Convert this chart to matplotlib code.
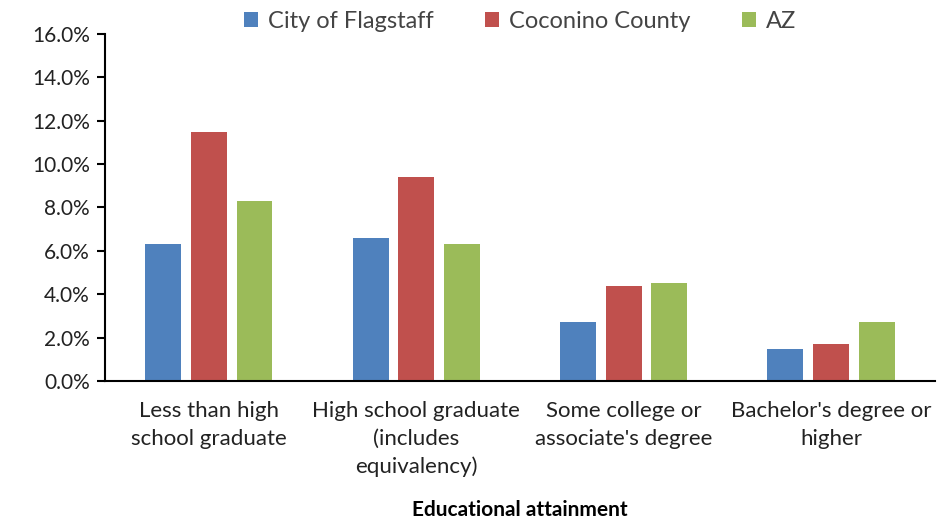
import matplotlib.pyplot as plt
import numpy as np
from matplotlib.ticker import FuncFormatter

plt.rcParams['font.family'] = ['Lato', 'DejaVu Sans']

categories = ['Less than high\nschool graduate',
              'High school graduate\n(includes\nequivalency)',
              'Some college or\nassociate\'s degree',
              'Bachelor\'s degree or\nhigher']
series = ['City of Flagstaff', 'Coconino County', 'AZ']
flagstaff = [6.3, 6.6, 2.7, 1.5]
coconino = [11.5, 9.4, 4.4, 1.7]
az = [8.3, 6.3, 4.5, 2.7]
colors = ['#4F81BD', '#C0504D', '#9BBB59']

fig = plt.figure(figsize=(9.48, 5.22), dpi=100)
ax = fig.add_axes([0.111, 0.270, 0.875, 0.665])

x = np.arange(len(categories))
w = 0.173
step = 0.22
for i, (vals, name) in enumerate(zip([flagstaff, coconino, az], series)):
    ax.bar(x + (i - 1) * step, vals, width=w, color=colors[i], label=name)

ax.set_xlim(-0.5, len(categories) - 0.5)
ax.set_ylim(0, 16)
ax.set_yticks(np.arange(0, 16.1, 2))
ax.yaxis.set_major_formatter(FuncFormatter(lambda v, p: f'{v:.1f}%'))
ax.set_xticks(x)
ax.set_xticklabels(categories, fontsize=16, color='#222222', linespacing=1.5)
ax.tick_params(axis='x', length=0, pad=14)
ax.tick_params(axis='y', direction='out', length=6, width=1.5, labelsize=15,
               colors='black', labelcolor='#222222', pad=5)
for s in ['top', 'right']:
    ax.spines[s].set_visible(False)
ax.spines['left'].set_linewidth(1.5)
ax.spines['bottom'].set_linewidth(1.5)

ax.set_xlabel('Educational attainment', fontsize=15, fontweight='bold', labelpad=16)
ax.legend(loc='lower center', bbox_to_anchor=(0.5, 0.945), ncol=3, frameon=False,
          fontsize=17, handlelength=0.6, handleheight=0.6, columnspacing=2.2,
          handletextpad=0.4, labelcolor='#444444')

fig.savefig('out.png', dpi=100)
